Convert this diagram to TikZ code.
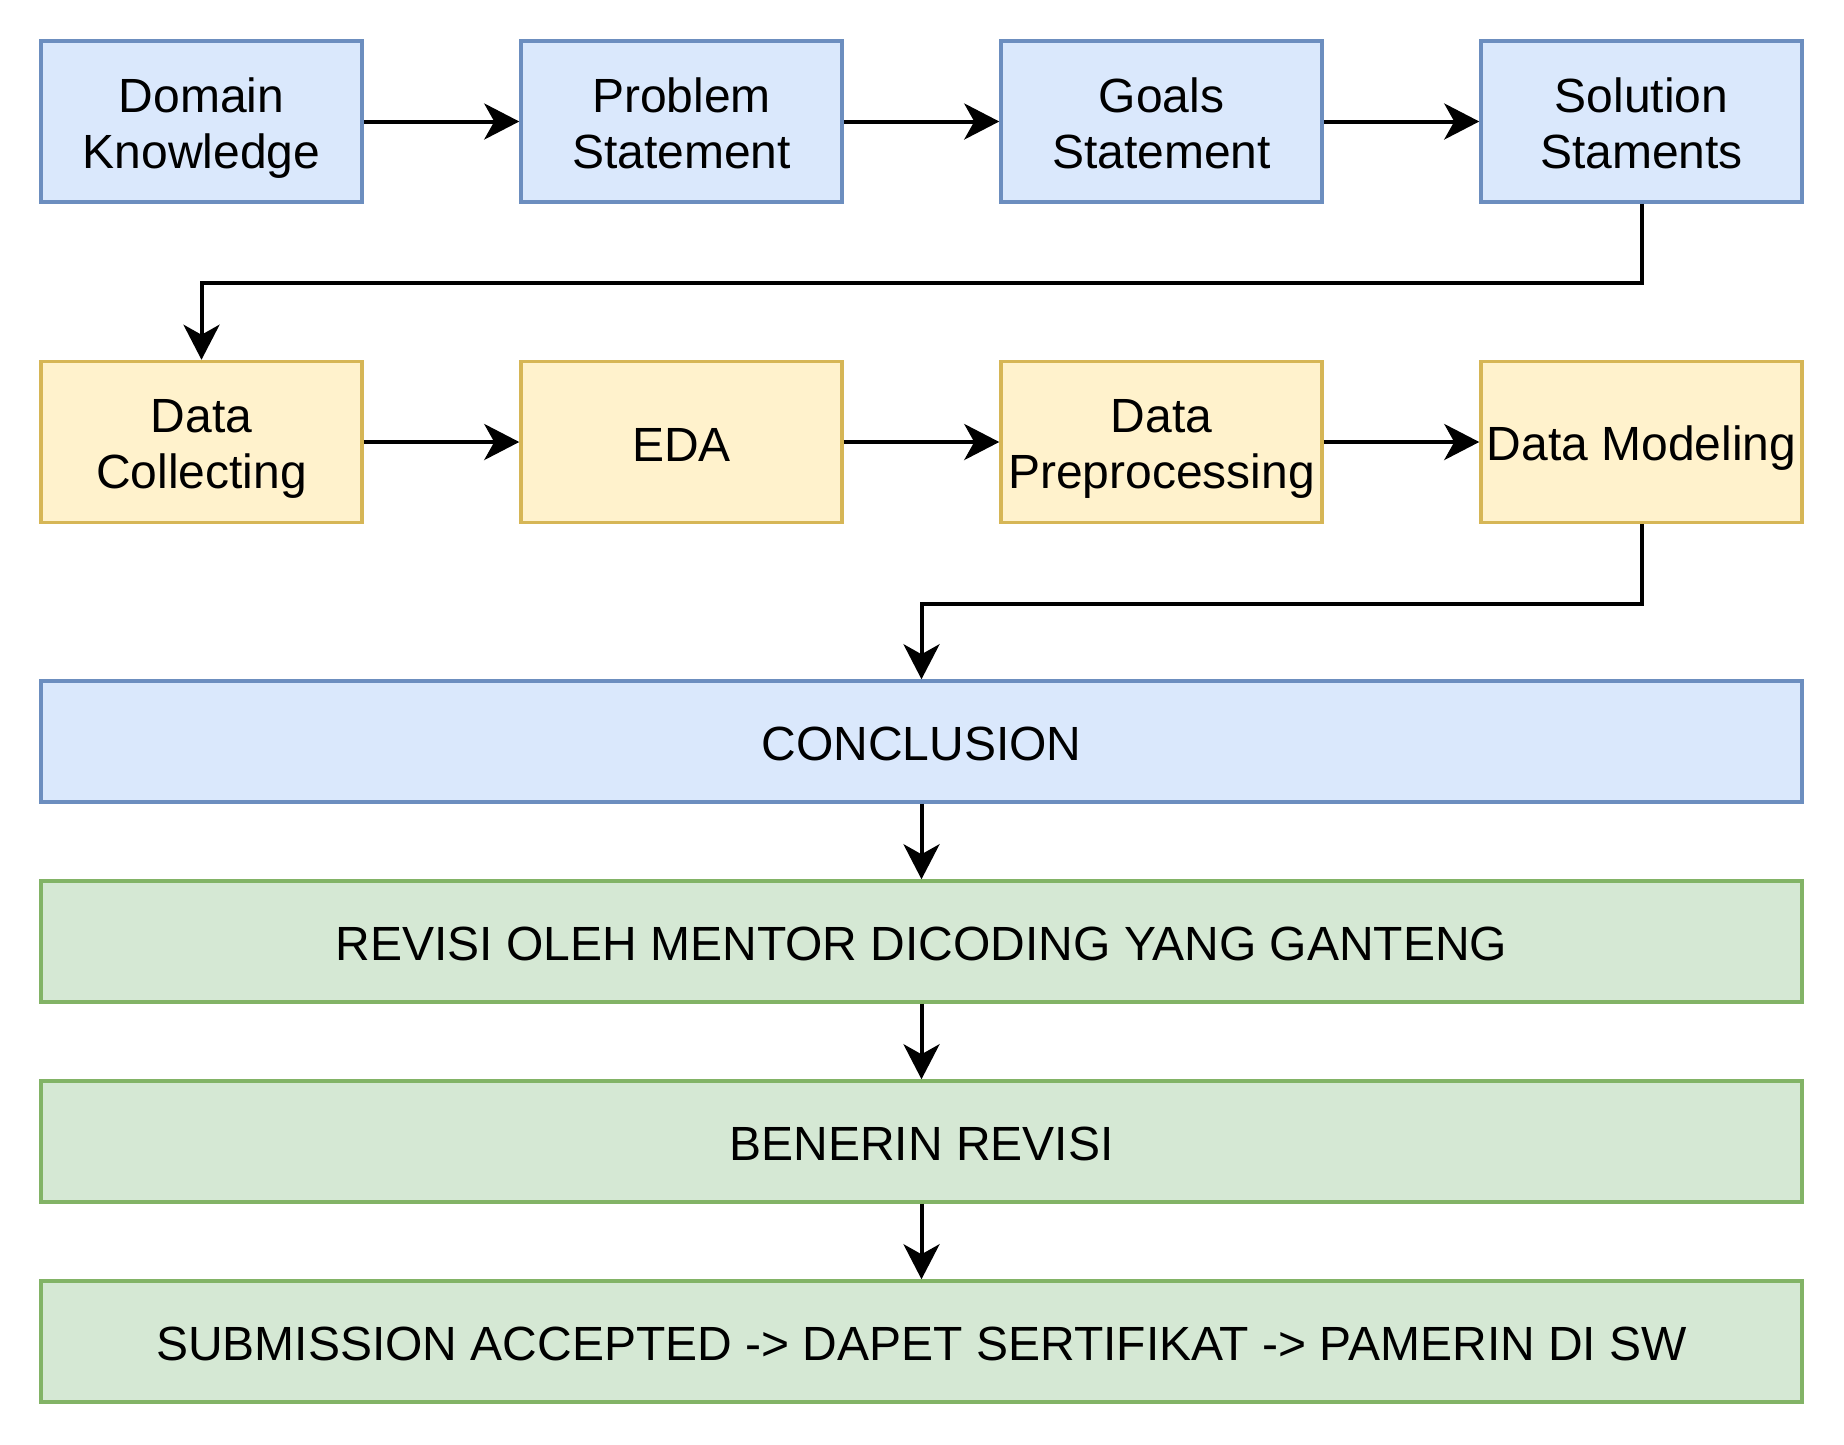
\documentclass[tikz,border=0pt]{standalone}
\usepackage{fontspec}
\setmainfont{Liberation Sans}
\usetikzlibrary{arrows.meta}
\definecolor{bluefill}{HTML}{DAE8FC}
\definecolor{bluedraw}{HTML}{6C8EBF}
\definecolor{yelfill}{HTML}{FFF2CC}
\definecolor{yeldraw}{HTML}{D6B656}
\definecolor{grnfill}{HTML}{D5E8D4}
\definecolor{grndraw}{HTML}{82B366}
\newcommand\lnstrut{\rule[-9pt]{0pt}{56pt}}
\tikzset{
  box/.style={rectangle, line width=3.5pt, inner sep=0pt, align=center,
    font=\fontsize{48}{56}\selectfont, text=black},
  smallbox/.style={box, minimum width=321pt, minimum height=161pt},
  widebox/.style={box, minimum width=1761pt, minimum height=121pt},
  bluebox/.style={fill=bluefill, draw=bluedraw},
  yelbox/.style={fill=yelfill, draw=yeldraw},
  grnbox/.style={fill=grnfill, draw=grndraw},
  conn/.style={line width=4pt, draw=black, -{Stealth[length=35pt, width=36pt, inset=10pt]}}
}
\begin{document}
\begin{tikzpicture}[x=1pt, y=1pt]
\useasboundingbox (0,0) rectangle (1844,-1444);
\fill[white] (0,0) rectangle (1844,-1444);
\node[smallbox, bluebox] (d1) at (201.5,-121.5) {\lnstrut Domain\\\lnstrut Knowledge};
\node[smallbox, bluebox] (d2) at (681.5,-121.5) {\lnstrut Problem\\\lnstrut Statement};
\node[smallbox, bluebox] (d3) at (1161.5,-121.5) {\lnstrut Goals\\\lnstrut Statement};
\node[smallbox, bluebox] (d4) at (1641.5,-121.5) {\lnstrut Solution\\\lnstrut Staments};
\node[smallbox, yelbox] (c1) at (201.5,-442) {\lnstrut Data\\\lnstrut Collecting};
\node[smallbox, yelbox] (c2) at (681.5,-442) {\lnstrut EDA};
\node[smallbox, yelbox] (c3) at (1161.5,-442) {\lnstrut Data\\\lnstrut Preprocessing};
\node[smallbox, yelbox] (c4) at (1641.5,-442) {\lnstrut Data Modeling};
\node[widebox, bluebox] (conc) at (921.5,-741.5) {\lnstrut CONCLUSION};
\node[widebox, grnbox] (rev) at (921.5,-941.5) {\lnstrut REVISI OLEH MENTOR DICODING YANG GANTENG};
\node[widebox, grnbox] (ben) at (921.5,-1141.5) {\lnstrut BENERIN REVISI};
\node[widebox, grnbox] (sub) at (921.5,-1341.5) {\lnstrut SUBMISSION ACCEPTED -> DAPET SERTIFIKAT -> PAMERIN DI SW};
\draw[conn] (d1) -- (d2);
\draw[conn] (d2) -- (d3);
\draw[conn] (d3) -- (d4);
\draw[conn] (d4.south) -- ++(0,-79.5) -| (c1.north);
\draw[conn] (c1) -- (c2);
\draw[conn] (c2) -- (c3);
\draw[conn] (c3) -- (c4);
\draw[conn] (c4.south) -- ++(0,-79.5) -| (conc.north);
\draw[conn] (conc) -- (rev);
\draw[conn] (rev) -- (ben);
\draw[conn] (ben) -- (sub);
\end{tikzpicture}
\end{document}
